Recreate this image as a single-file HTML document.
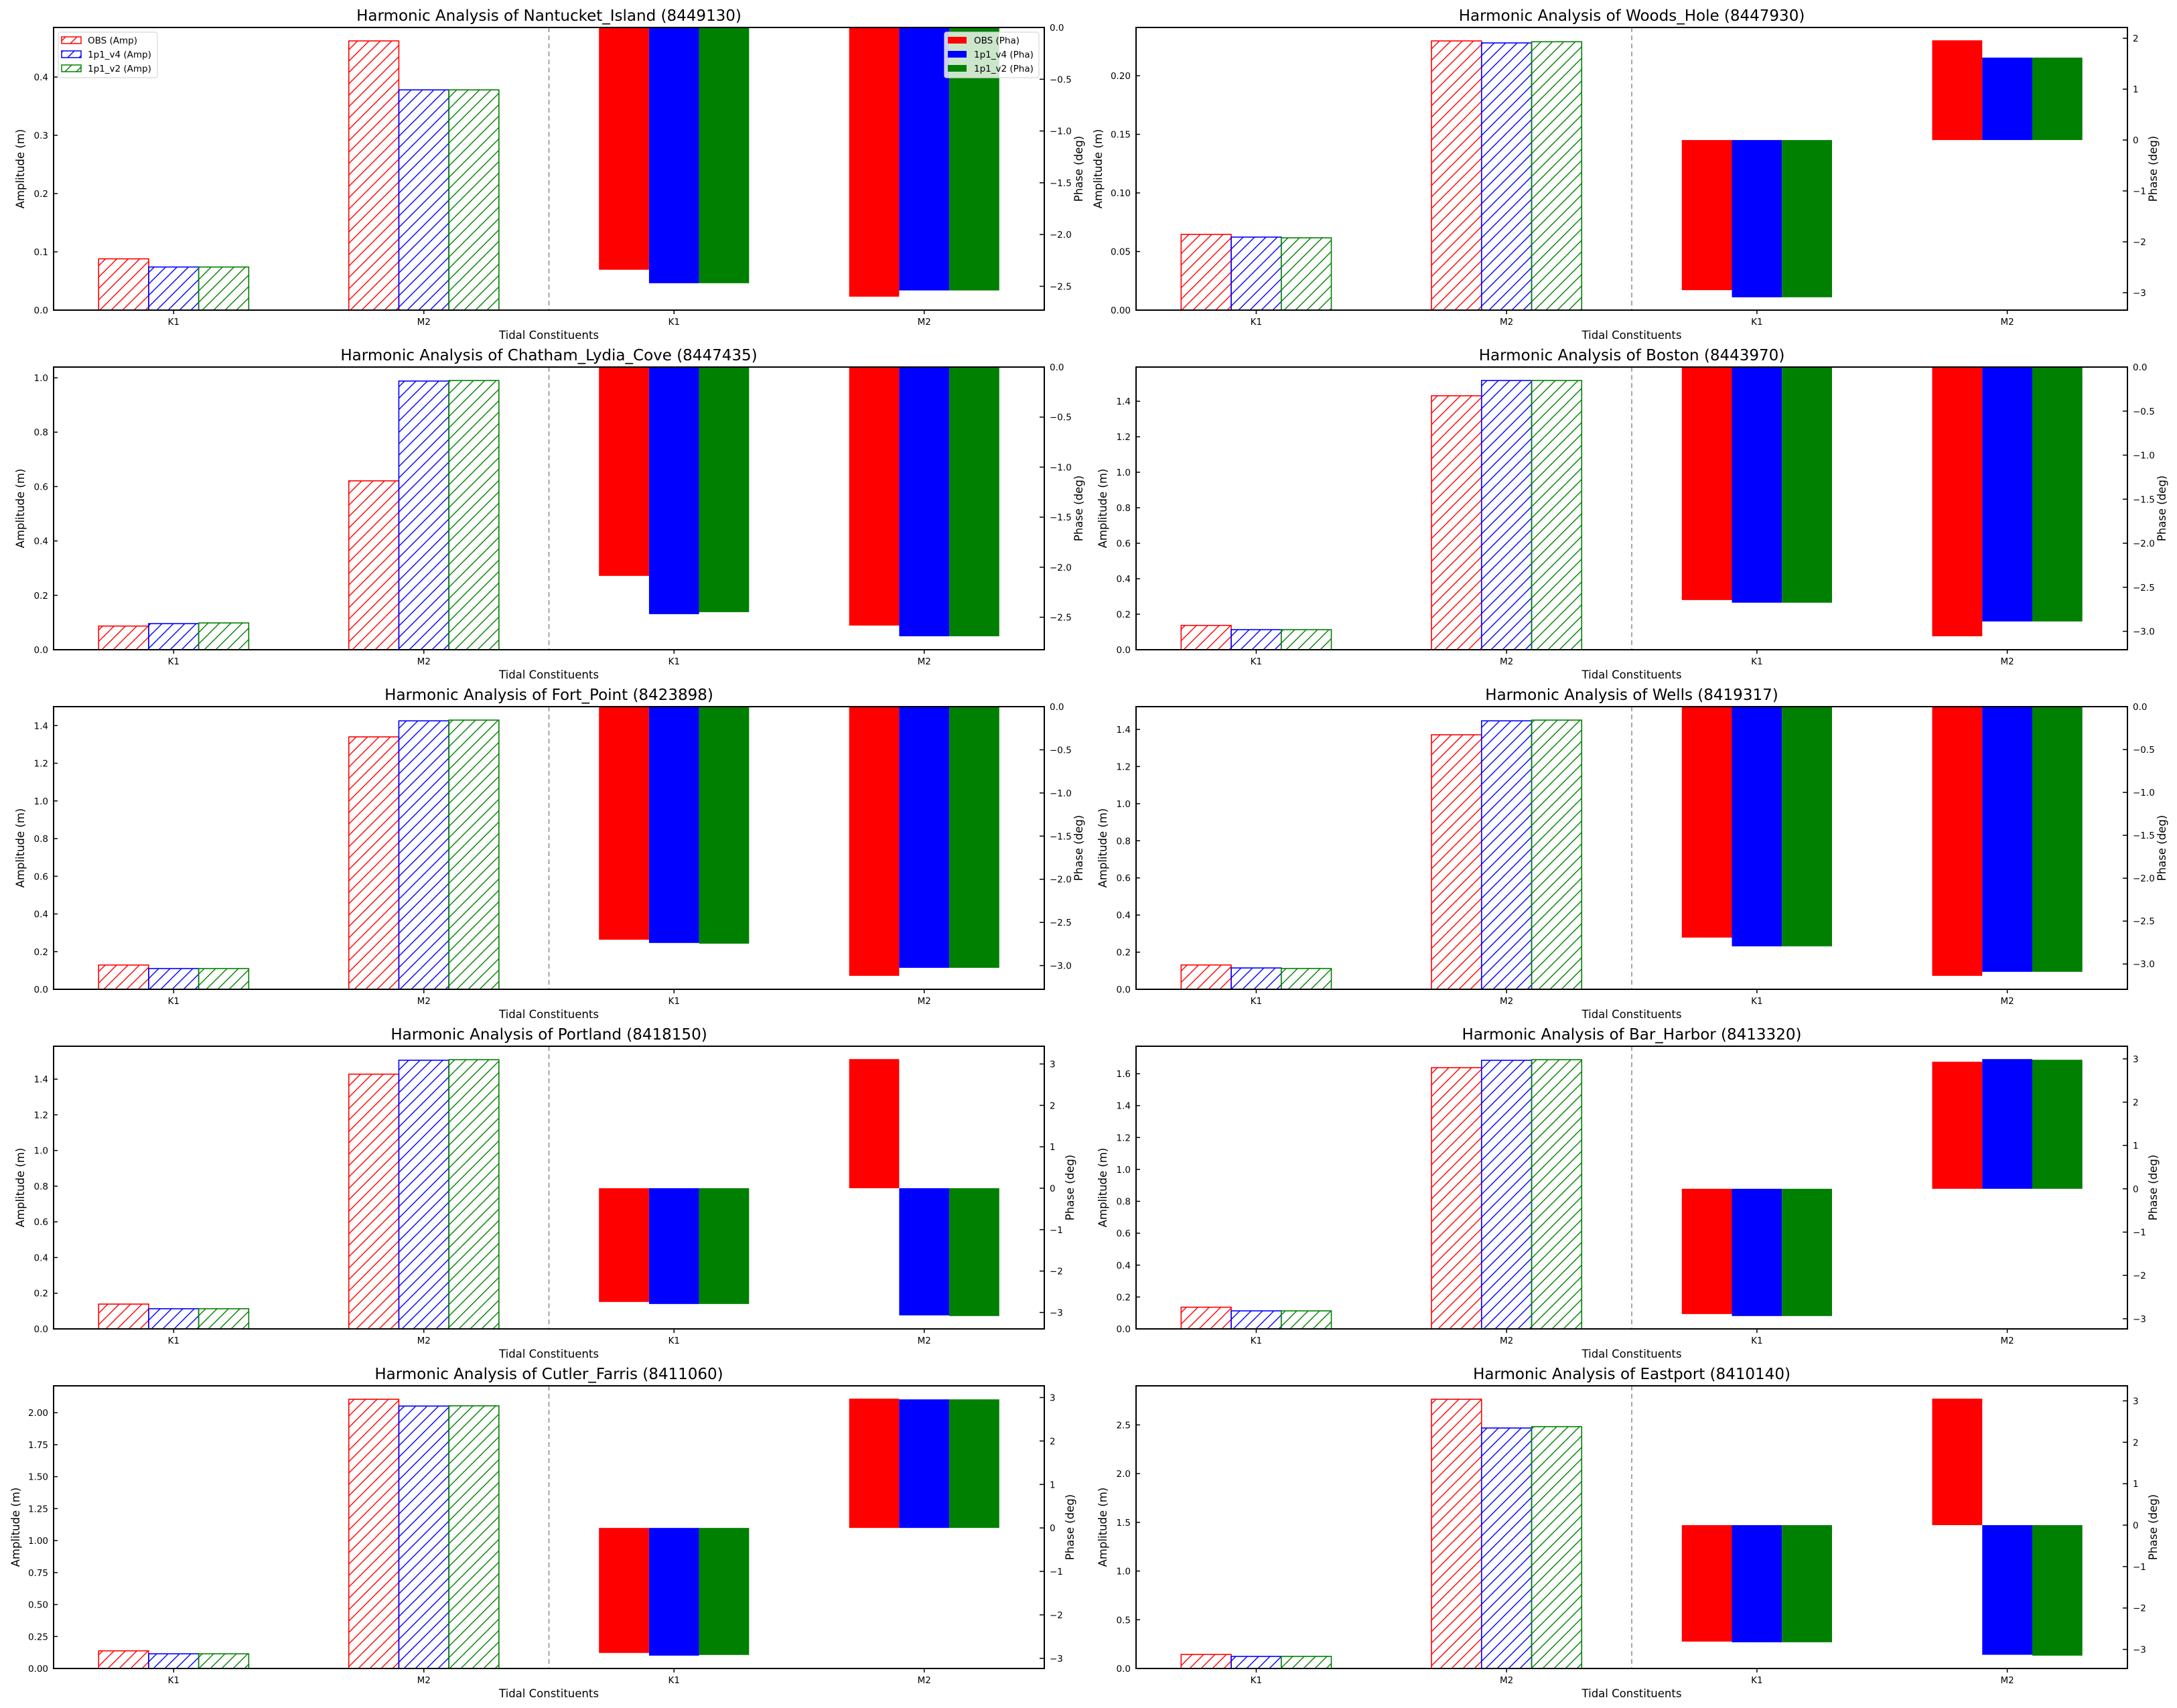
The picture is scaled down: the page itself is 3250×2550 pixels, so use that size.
<!DOCTYPE html>
<html><head><meta charset="utf-8">
<style>
html,body{margin:0;padding:0;background:#fff;}
svg{display:block;font-family:"DejaVu Sans","Liberation Sans",sans-serif;}
</style></head>
<body>
<svg id="fig" xmlns="http://www.w3.org/2000/svg" width="3250" height="2550" viewBox="0 0 3250 2550">
<defs>
<pattern id="hatch-red" patternUnits="userSpaceOnUse" width="17" height="17"><path d="M-2,19 L19,-2 M-2,2 L2,-2 M15,19 L19,15" stroke="#ff0000" stroke-width="1.4"/></pattern>
<pattern id="hatch-blue" patternUnits="userSpaceOnUse" width="17" height="17"><path d="M-2,19 L19,-2 M-2,2 L2,-2 M15,19 L19,15" stroke="#0000ff" stroke-width="1.4"/></pattern>
<pattern id="hatch-green" patternUnits="userSpaceOnUse" width="17" height="17"><path d="M-2,19 L19,-2 M-2,2 L2,-2 M15,19 L19,15" stroke="#008000" stroke-width="1.4"/></pattern>
</defs>
</svg>
<script>
const stations = ["Nantucket_Island","Woods_Hole","Chatham_Lydia_Cove","Boston","Fort_Point","Wells","Portland","Bar_Harbor","Cutler_Farris","Eastport"];
const stationIds = ["8449130","8447930","8447435","8443970","8423898","8419317","8418150","8413320","8411060","8410140"];
const constituents = ["K1","M2"];
const seriesNames = ["OBS","1p1_v4","1p1_v2"];
const ampObs = [[0.088,0.462],[0.0646,0.2297],[0.087,0.621],[0.137,1.431],[0.129,1.340],[0.131,1.371],[0.139,1.428],[0.136,1.638],[0.138,2.105],[0.144,2.763]];
const ampV4  = [[0.074,0.378],[0.0623,0.228],[0.096,0.988],[0.113,1.517],[0.110,1.425],[0.115,1.446],[0.113,1.506],[0.113,1.684],[0.115,2.052],[0.124,2.468]];
const ampV2  = [[0.074,0.378],[0.0617,0.229],[0.0985,0.990],[0.113,1.517],[0.110,1.429],[0.112,1.450],[0.113,1.509],[0.113,1.688],[0.115,2.054],[0.124,2.482]];
const phaObs = [[-2.34,-2.60],[-2.95,1.96],[-2.087,-2.583],[-2.645,-3.056],[-2.70,-3.119],[-2.692,-3.138],[-2.746,3.118],[-2.892,2.933],[-2.876,2.974],[-2.811,3.053]];
const phaV4  = [[-2.47,-2.54],[-3.09,1.62],[-2.469,-2.690],[-2.675,-2.888],[-2.738,-3.026],[-2.794,-3.091],[-2.795,-3.070],[-2.938,2.995],[-2.938,2.958],[-2.827,-3.129]];
const phaV2  = [[-2.47,-2.54],[-3.09,1.62],[-2.449,-2.690],[-2.675,-2.888],[-2.746,-3.026],[-2.794,-3.091],[-2.795,-3.086],[-2.938,2.979],[-2.922,2.958],[-2.827,-3.150]];
const ampTicks = [[0,0.1,0.2,0.3,0.4],[0,0.05,0.1,0.15,0.2],[0,0.2,0.4,0.6,0.8,1.0],[0,0.2,0.4,0.6,0.8,1.0,1.2,1.4],[0,0.2,0.4,0.6,0.8,1.0,1.2,1.4],[0,0.2,0.4,0.6,0.8,1.0,1.2,1.4],[0,0.2,0.4,0.6,0.8,1.0,1.2,1.4],[0,0.2,0.4,0.6,0.8,1.0,1.2,1.4,1.6],[0,0.25,0.5,0.75,1.0,1.25,1.5,1.75,2.0],[0,0.5,1.0,1.5,2.0,2.5]];
const ampDecimals = [1,2,1,1,1,1,1,1,2,1];
const phaTicks = [[0,-0.5,-1,-1.5,-2,-2.5],[-3,-2,-1,0,1,2],[0,-0.5,-1,-1.5,-2,-2.5],[0,-0.5,-1,-1.5,-2,-2.5,-3],[0,-0.5,-1,-1.5,-2,-2.5,-3],[0,-0.5,-1,-1.5,-2,-2.5,-3],[-3,-2,-1,0,1,2,3],[-3,-2,-1,0,1,2,3],[-3,-2,-1,0,1,2,3],[-3,-2,-1,0,1,2,3]];
const phaDecimals = [1,0,1,1,1,1,0,0,0,0];

const colors = ["#ff0000","#0000ff","#008000"];
const hatchIds = ["hatch-red","hatch-blue","hatch-green"];
const NS = "http://www.w3.org/2000/svg";
const svg = document.getElementById("fig");
function mk(tag, attrs, parent){const e=document.createElementNS(NS,tag);for(const k in attrs)e.setAttribute(k,attrs[k]);(parent||svg).appendChild(e);return e;}
function fmt(v,d){const s=Math.abs(v).toFixed(d);return (v<0?"\u2212":"")+s;}
function lim(vals){let lo=Math.min(0,...vals),hi=Math.max(0,...vals);const r=hi-lo;return [lo<0?lo-0.05*r:0, hi>0?hi+0.05*r:0];}

const XMIN=-0.48, XMAX=3.48, H=422;
for(let p=0;p<stations.length;p++){
  const col=p%2,row=Math.floor(p/2);
  const L=col===0?80:1696, R=col===0?1559:3176, T=41+507*row, B=T+H;
  const g=mk("g",{});
  
  
  const xs=v=>L+(v-XMIN)/(XMAX-XMIN)*(R-L);
  const ampSeries=[ampObs[p],ampV4[p],ampV2[p]];
  const phaSeries=[phaObs[p],phaV4[p],phaV2[p]];
  const aLim=lim([].concat(...ampSeries));
  const pLim=lim([].concat(...phaSeries));
  const ya=v=>B-(v-aLim[0])/(aLim[1]-aLim[0])*H;
  const yp=v=>B-(v-pLim[0])/(pLim[1]-pLim[0])*H;
  // amplitude bars
  for(let s=0;s<3;s++){for(let c=0;c<2;c++){
    const x0=xs(c-0.3+0.2*s),x1=xs(c-0.1+0.2*s),y0=ya(ampSeries[s][c]),y1=ya(0);
    const r=mk("rect",{x:x0,y:y0,width:x1-x0,height:y1-y0,fill:"url(#"+hatchIds[s]+")",stroke:colors[s],"stroke-width":1.6},g);
    
    
  }}
  // phase bars
  for(let s=0;s<3;s++){for(let c=0;c<2;c++){
    const x0=xs(c+2-0.3+0.2*s),x1=xs(c+2-0.1+0.2*s);
    const a=yp(phaSeries[s][c]),b=yp(0);
    const r=mk("rect",{x:x0,y:Math.min(a,b),width:x1-x0,height:Math.abs(b-a),fill:colors[s]},g);
    
    
  }}
  // divider
  const dv=mk("line",{x1:xs(1.5),x2:xs(1.5),y1:T,y2:B,stroke:"#808080","stroke-width":1.4,"stroke-dasharray":"7,5"},g);
  
  
  // spines
  const fr=mk("rect",{x:L,y:T,width:R-L,height:H,fill:"none",stroke:"#000","stroke-width":2},g);
  
  
  // left ticks
  for(const t of ampTicks[p]){
    const y=ya(t);
    mk("line",{x1:L,x2:L+6,y1:y,y2:y,stroke:"#000","stroke-width":1.5},g);
    const tx=mk("text",{x:L-8,y:y+5,"font-size":13.5,"text-anchor":"end",fill:"#000"},g);
    tx.textContent=fmt(t,ampDecimals[p]);
    
    
  }
  // right ticks
  for(const t of phaTicks[p]){
    const y=yp(t);
    mk("line",{x1:R-7,x2:R,y1:y,y2:y,stroke:"#000","stroke-width":1.5},g);
    const tx=mk("text",{x:R+8,y:y+5,"font-size":13.5,"text-anchor":"start",fill:"#000"},g);
    tx.textContent=fmt(t,phaDecimals[p]);
    
    
  }
  // x ticks
  for(let i=0;i<4;i++){
    const x=xs(i);
    mk("line",{x1:x,x2:x,y1:B,y2:B+6,stroke:"#000","stroke-width":1.5},g);
    const tx=mk("text",{x:x,y:B+22,"font-size":13.5,"text-anchor":"middle",fill:"#000"},g);
    tx.textContent=constituents[i%2];
    
    
  }
  const xl=mk("text",{x:(L+R)/2,y:B+43,"font-size":16.5,"text-anchor":"middle",fill:"#000"},g);
  xl.textContent="Tidal Constituents";
  
  
  const ax=L-(ampDecimals[p]===2?57:50), my=(T+B)/2;
  const yl=mk("text",{x:ax,y:my,"font-size":16.5,"text-anchor":"middle",fill:"#000",transform:"rotate(-90 "+ax+" "+my+")"},g);
  yl.setAttribute("dy","6");
  yl.textContent="Amplitude (m)";
  
  
  const px=R+(phaDecimals[p]===1?51:38);
  const pl=mk("text",{x:px,y:my,"font-size":16.5,"text-anchor":"middle",fill:"#000",transform:"rotate(-90 "+px+" "+my+")"},g);
  pl.setAttribute("dy","6");
  pl.textContent="Phase (deg)";
  
  
  const ti=mk("text",{x:(L+R)/2,y:T-10,"font-size":23,"text-anchor":"middle",fill:"#000"},g);
  ti.textContent="Harmonic Analysis of "+stations[p]+" ("+stationIds[p]+")";
  
  
  // legends (first panel only)
  if(p===0){
    const lg=mk("g",{},g);
    
    
    mk("rect",{x:87,y:48,width:148,height:68,rx:3,fill:"#fff","fill-opacity":0.8,stroke:"#d8d8d8","stroke-width":1.2},lg);
    for(let s=0;s<3;s++){
      const yy=55+21*s;
      const e=mk("g",{},lg);
      
      
      mk("rect",{x:92,y:yy,width:29,height:10,fill:"url(#"+hatchIds[s]+")",stroke:colors[s],"stroke-width":1.5},e);
      const t=mk("text",{x:131,y:yy+10,"font-size":13.5,fill:"#000"},e);
      t.textContent=seriesNames[s]+" (Amp)";
    }
    const lg2=mk("g",{},g);
    
    
    mk("rect",{x:1410,y:48,width:141,height:68,rx:3,fill:"#fff","fill-opacity":0.8,stroke:"#d8d8d8","stroke-width":1.2},lg2);
    for(let s=0;s<3;s++){
      const yy=55+21*s;
      const e=mk("g",{},lg2);
      
      
      mk("rect",{x:1415,y:yy,width:28,height:10,fill:colors[s]},e);
      const t=mk("text",{x:1454,y:yy+10,"font-size":13.5,fill:"#000"},e);
      t.textContent=seriesNames[s]+" (Pha)";
    }
  }
}
</script>
</body></html>
